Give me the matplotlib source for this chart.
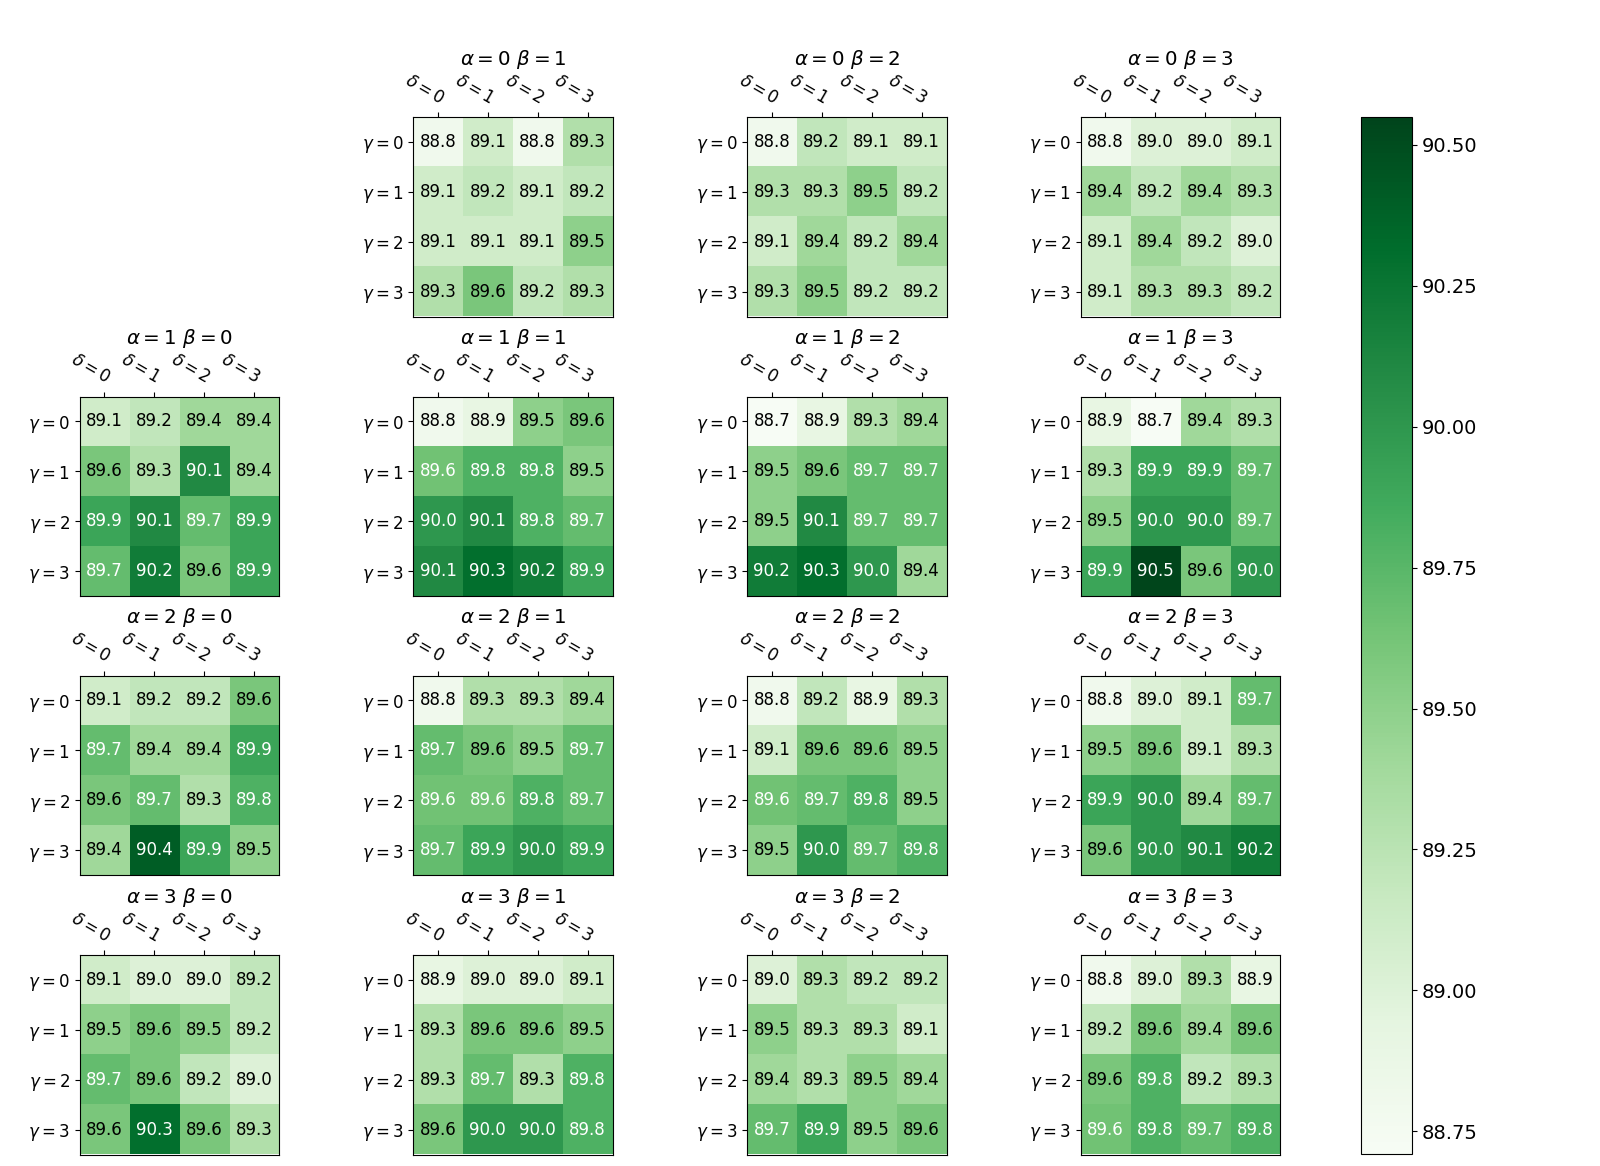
import numpy as np
import matplotlib
matplotlib.use("Agg")
import matplotlib.pyplot as plt

# ---- data: accuracy grid for each (alpha, beta); rows = gamma, cols = delta ----
a0b1 = [[88.80, 89.10, 88.80, 89.30],
        [89.10, 89.20, 89.10, 89.20],
        [89.10, 89.10, 89.10, 89.50],
        [89.30, 89.60, 89.20, 89.30]]
a0b2 = [[88.80, 89.20, 89.10, 89.10],
        [89.30, 89.30, 89.50, 89.20],
        [89.10, 89.40, 89.20, 89.40],
        [89.30, 89.50, 89.20, 89.20]]
a0b3 = [[88.80, 89.00, 89.00, 89.10],
        [89.40, 89.20, 89.40, 89.30],
        [89.10, 89.40, 89.20, 89.00],
        [89.10, 89.30, 89.30, 89.20]]
a1b0 = [[89.10, 89.20, 89.40, 89.40],
        [89.60, 89.30, 90.10, 89.40],
        [89.90, 90.10, 89.70, 89.90],
        [89.70, 90.20, 89.60, 89.90]]
a1b1 = [[88.80, 88.90, 89.50, 89.60],
        [89.64, 89.80, 89.80, 89.50],
        [90.00, 90.10, 89.80, 89.70],
        [90.10, 90.30, 90.20, 89.90]]
a1b2 = [[88.71, 88.90, 89.30, 89.40],
        [89.50, 89.60, 89.70, 89.70],
        [89.50, 90.10, 89.70, 89.70],
        [90.20, 90.30, 90.00, 89.40]]
a1b3 = [[88.90, 88.70, 89.40, 89.30],
        [89.30, 89.90, 89.90, 89.70],
        [89.50, 90.00, 90.00, 89.70],
        [89.90, 90.54, 89.60, 90.00]]
a2b0 = [[89.10, 89.20, 89.20, 89.60],
        [89.70, 89.40, 89.40, 89.90],
        [89.60, 89.70, 89.30, 89.80],
        [89.40, 90.40, 89.90, 89.50]]
a2b1 = [[88.80, 89.30, 89.30, 89.40],
        [89.70, 89.60, 89.50, 89.70],
        [89.64, 89.64, 89.80, 89.70],
        [89.70, 89.90, 90.00, 89.90]]
a2b2 = [[88.80, 89.20, 88.90, 89.30],
        [89.10, 89.60, 89.60, 89.50],
        [89.64, 89.70, 89.80, 89.50],
        [89.50, 90.00, 89.70, 89.80]]
a2b3 = [[88.80, 89.00, 89.10, 89.70],
        [89.50, 89.60, 89.10, 89.30],
        [89.90, 90.00, 89.40, 89.70],
        [89.60, 90.00, 90.10, 90.20]]
a3b0 = [[89.10, 89.00, 89.00, 89.20],
        [89.50, 89.60, 89.50, 89.20],
        [89.70, 89.60, 89.20, 89.00],
        [89.60, 90.30, 89.60, 89.30]]
a3b1 = [[88.90, 89.00, 89.00, 89.10],
        [89.30, 89.60, 89.60, 89.50],
        [89.30, 89.70, 89.30, 89.80],
        [89.60, 90.00, 90.00, 89.80]]
a3b2 = [[89.00, 89.30, 89.20, 89.20],
        [89.50, 89.30, 89.30, 89.10],
        [89.40, 89.30, 89.50, 89.40],
        [89.70, 89.90, 89.50, 89.60]]
a3b3 = [[88.80, 89.00, 89.30, 88.90],
        [89.20, 89.60, 89.40, 89.60],
        [89.60, 89.80, 89.20, 89.30],
        [89.64, 89.80, 89.70, 89.80]]

panels = {
    (0, 1): a0b1, (0, 2): a0b2, (0, 3): a0b3,
    (1, 0): a1b0, (1, 1): a1b1, (1, 2): a1b2, (1, 3): a1b3,
    (2, 0): a2b0, (2, 1): a2b1, (2, 2): a2b2, (2, 3): a2b3,
    (3, 0): a3b0, (3, 1): a3b1, (3, 2): a3b2, (3, 3): a3b3,
}
delta_labels = [r"$\delta = %d$" % i for i in range(4)]
gamma_labels = [r"$\gamma = %d$" % i for i in range(4)]
cbar_ticks = [88.75, 89.00, 89.25, 89.50, 89.75, 90.00, 90.25, 90.50]
color_range = (88.71, 90.549)

vmin, vmax = color_range
thresh = (vmin + vmax) / 2.0

W, H = 1600, 1166
fig = plt.figure(figsize=(W / 100, H / 100), dpi=100)

col_left = [79.5, 413, 747, 1080.5]
row_top = [117, 396.5, 675.5, 955]
size = 199.5

im = None
for (a, b), vals in panels.items():
    x0 = col_left[b]
    y0 = row_top[a]
    ax = fig.add_axes([x0 / W, 1 - (y0 + size) / H, size / W, size / H])
    data = np.array(vals)
    im = ax.imshow(data, cmap="Greens", vmin=vmin, vmax=vmax)
    ax.set_xticks(range(4))
    ax.set_yticks(range(4))
    ax.set_xticklabels(delta_labels, fontsize=12)
    ax.set_yticklabels(gamma_labels, fontsize=12)
    ax.tick_params(top=True, bottom=False, labeltop=True, labelbottom=False)
    plt.setp(ax.get_xticklabels(), rotation=-30, ha="right", rotation_mode="anchor")
    for i in range(4):
        for j in range(4):
            v = data[i, j]
            ax.text(j, i, "%.1f" % v, ha="center", va="center",
                    color="white" if v > thresh else "black", fontsize=12)
    ax.set_title(r"$\alpha = %d\ \beta = %d$" % (a, b), fontsize=14.3, pad=3)

cax = fig.add_axes([1361 / W, 1 - 1154 / H, 51 / W, (1154 - 117) / H])
cb = fig.colorbar(im, cax=cax)
cb.set_ticks(cbar_ticks)
cb.ax.set_yticklabels(["%.2f" % t for t in cbar_ticks], fontsize=14)

fig.savefig("out.png", dpi=100)
